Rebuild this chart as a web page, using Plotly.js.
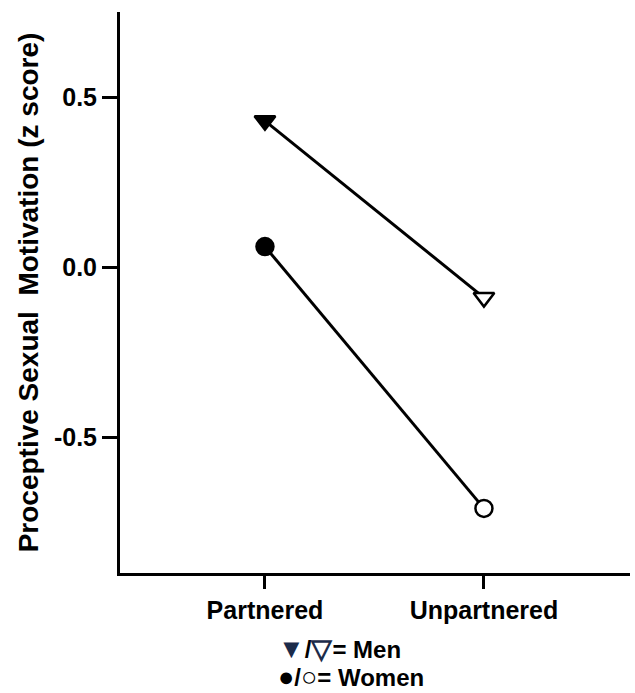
<!DOCTYPE html>
<html>
<head>
<meta charset="utf-8">
<script src="https://cdn.plot.ly/plotly-3.0.1.min.js"></script>
<style>html,body{margin:0;padding:0;background:#fff;}#chart{width:635px;height:693px;}</style>
</head>
<body>
<div id="chart"></div>
<script>
const categories = ["Partnered", "Unpartnered"];
const menValues = [0.43, -0.09];
const womenValues = [0.06, -0.71];
const yTickVals = [-0.5, 0.0, 0.5];
const yTickText = ["-0.5", "0.0", "0.5"];
const legendMen = "= Men";
const legendWomen = "= Women";

const F = "Liberation Sans, Arial, sans-serif";

const traces = [
  {
    x: categories, y: menValues, type: "scatter", mode: "lines+markers",
    line: {color: "black", width: 3},
    marker: {symbol: "triangle-down", size: 18, color: ["black", "white"], line: {color: "black", width: 2.5}},
    showlegend: false, hoverinfo: "skip"
  },
  {
    x: categories, y: womenValues, type: "scatter", mode: "lines+markers",
    line: {color: "black", width: 3},
    marker: {symbol: "circle", size: 17, color: ["black", "white"], line: {color: "black", width: 2.5}},
    showlegend: false, hoverinfo: "skip"
  }
];

const navy = "#1c2b4a";
const sym = (c, color) => "<span style='font-size:27px" + (color ? ";color:" + color : "") + "'>" + c + "</span>";
const legendLine1 = sym("▼", navy) + "/" + sym("▽", navy) + legendMen;
const legendLine2 = sym("●") + "/" + sym("○") + legendWomen;

const layout = {
  width: 635, height: 693,
  margin: {l: 120, r: 5, t: 12, b: 120},
  paper_bgcolor: "white", plot_bgcolor: "white",
  font: {family: F, color: "black"},
  xaxis: {
    type: "category", range: [-0.662, 1.667],
    showgrid: false, zeroline: false,
    showline: true, linecolor: "black", linewidth: 3,
    ticks: "outside", ticklen: 13, tickwidth: 3, tickcolor: "black",
    tickfont: {family: F, size: 25, color: "black", weight: "bold"}
  },
  yaxis: {
    range: [-0.9, 0.75],
    tickvals: yTickVals, ticktext: yTickText,
    showgrid: false, zeroline: false,
    showline: true, linecolor: "black", linewidth: 3,
    ticks: "outside", ticklen: 15, tickwidth: 3, tickcolor: "black",
    tickfont: {family: F, size: 25, color: "black", weight: "bold"},
    title: {text: "Proceptive Sexual  Motivation (z score)", standoff: 8,
            font: {family: F, size: 28, color: "black", weight: "bold"}}
  },
  annotations: [
    {xref: "paper", yref: "paper", x: 0.305, y: -0.1355, xanchor: "left", yanchor: "middle",
     showarrow: false, align: "left", text: legendLine1,
     font: {family: F, size: 24, color: "black", weight: "bold"}},
    {xref: "paper", yref: "paper", x: 0.305, y: -0.1854, xanchor: "left", yanchor: "middle",
     showarrow: false, align: "left", text: legendLine2,
     font: {family: F, size: 24, color: "black", weight: "bold"}}
  ]
};

Plotly.newPlot("chart", traces, layout, {displayModeBar: false, staticPlot: true});
</script>
</body>
</html>
